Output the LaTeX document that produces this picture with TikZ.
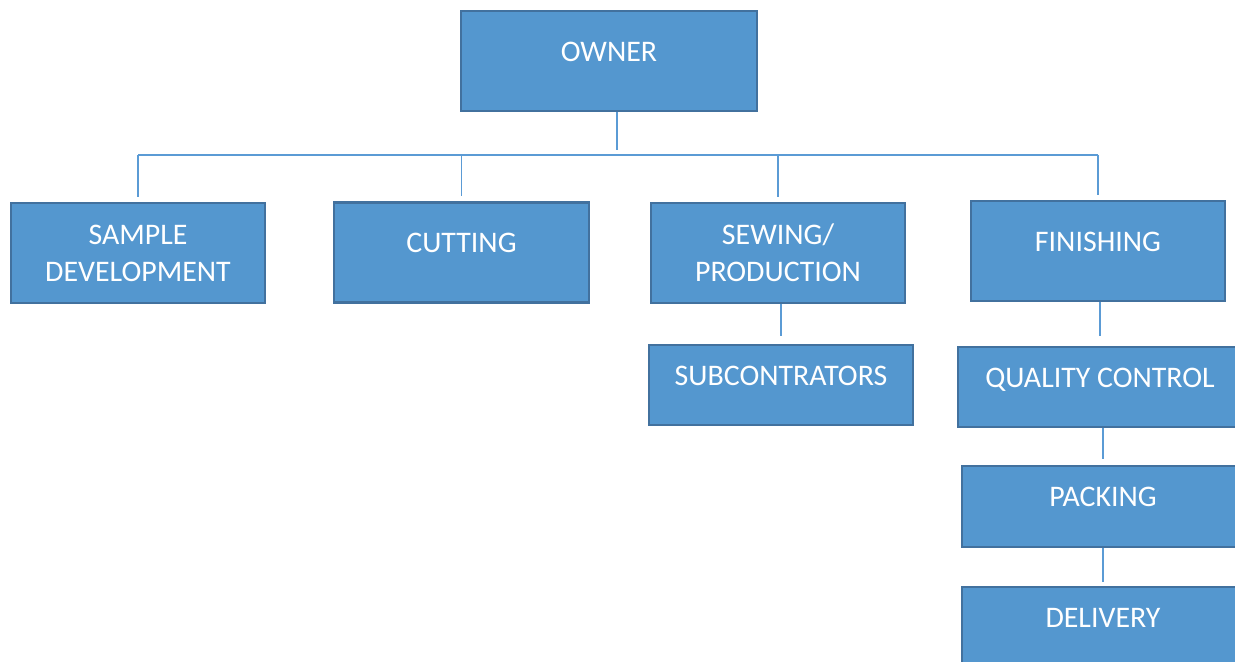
\documentclass[tikz,border=0pt]{standalone}
\usepackage{fontspec}
\setmainfont{Carlito}
\definecolor{boxfill}{RGB}{84,151,207}
\definecolor{boxline}{RGB}{66,113,158}
\definecolor{linkline}{RGB}{91,155,213}
\tikzset{
    box/.style={draw=boxline, line width=1.2pt, fill=boxfill, text=white,
        align=center, inner sep=0pt, minimum height=2cm,
        font=\fontsize{17}{21}\selectfont},
    oneline/.style={text depth=11pt},
    link/.style={draw=linkline, line width=0.8pt},
}
\begin{document}
\begin{tikzpicture}[x=0.02cm, y=-0.02cm]
        % \draw[help lines] (0,0) grid[step=50] (1235,662);
        \useasboundingbox (0,0) rectangle (1235,662);
        \clip (0,0) rectangle (1235,662);

        \node[box, oneline, minimum width=5.92cm] (owner) at (609,61) {OWNER};

        \node[box, minimum width=5.08cm] (sample) at (138,253) {SAMPLE\\DEVELOPMENT};
        \node[box, oneline, minimum width=5.1cm] (cutting) at (461.5,252.5) {CUTTING};
        \node[box, minimum width=5.08cm] (sewing) at (778,253) {SEWING/\\PRODUCTION};
        \node[box, oneline, minimum width=5.08cm] (finishing) at (1098,251) {FINISHING};

        \node[box, oneline, minimum width=5.28cm, minimum height=1.6cm] (sub) at (781,385) {SUBCONTRATORS};
        \node[box, oneline, minimum width=5.68cm, minimum height=1.6cm] (quality) at (1100,387) {QUALITY CONTROL};
        \node[box, oneline, minimum width=5.64cm, minimum height=1.62cm] (packing) at (1103,506.5) {PACKING};
        \node[box, oneline, minimum width=5.64cm, minimum height=1.62cm] (delivery) at (1103,627.5) {DELIVERY};

        \coordinate (bus) at (617,155);
        \draw[link, shorten >=0.1cm] (owner.south -| bus) -- (bus);
        \draw[link] (sample.north |- bus) -- (finishing.north |- bus);
        \foreach \n in {sample, cutting, sewing, finishing}
            \draw[link, shorten >=0.1cm] (\n.north |- bus) -- (\n.north);

        \draw[link, shorten >=0.16cm] (sub.north |- sewing.south) -- (sub.north);
        \draw[link, shorten >=0.2cm] (quality.north |- finishing.south) -- (quality.north);
        \draw[link, shorten >=0.12cm] (quality.south -| packing.north) -- (packing.north);
        \draw[link, shorten >=0.08cm] (packing.south) -- (delivery.north);
    \end{tikzpicture}
\end{document}
